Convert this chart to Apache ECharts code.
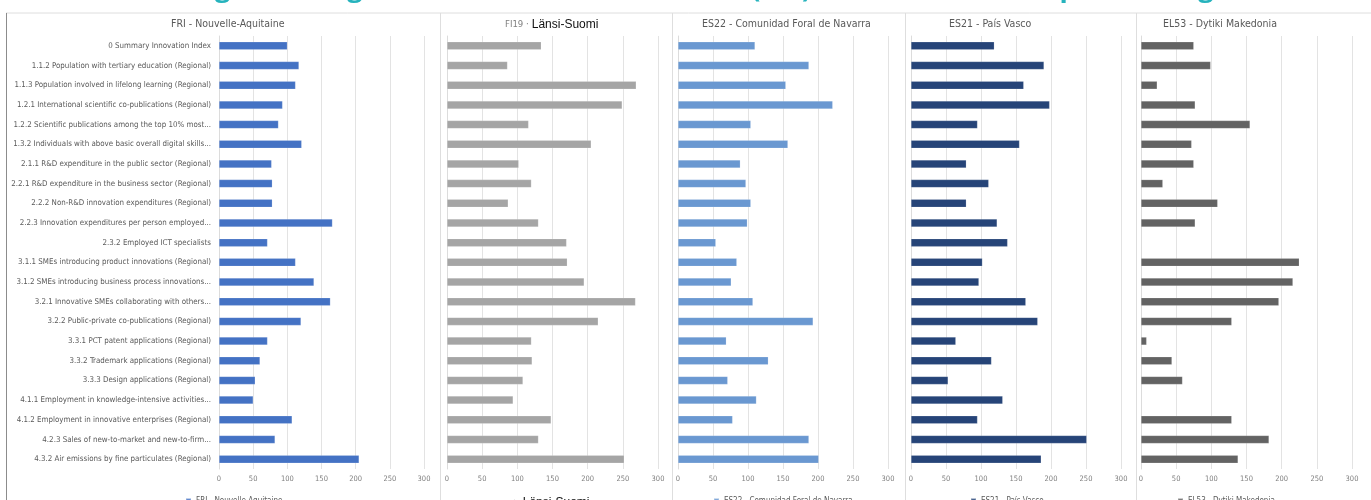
<!DOCTYPE html>
<html>
<head>
<meta charset="utf-8">
<script src="https://cdn.jsdelivr.net/npm/echarts@6/dist/echarts.min.js"></script>
<style>
  html, body { margin: 0; padding: 0; background: #fff; }
  #chart { width: 1371px; height: 500px; }
</style>
</head>
<body>
<div id="chart"></div>
<script>
var categories = [
  '0 Summary Innovation Index',
  '1.1.2 Population with tertiary education (Regional)',
  '1.1.3 Population involved in lifelong learning (Regional)',
  '1.2.1 International scientific co-publications (Regional)',
  '1.2.2 Scientific publications among the top 10% most...',
  '1.3.2 Individuals with above basic overall digital skills...',
  '2.1.1 R&D expenditure in the public sector (Regional)',
  '2.2.1 R&D expenditure in the business sector (Regional)',
  '2.2.2 Non-R&D innovation expenditures (Regional)',
  '2.2.3 Innovation expenditures per person employed...',
  '2.3.2 Employed ICT specialists',
  '3.1.1 SMEs introducing product innovations (Regional)',
  '3.1.2 SMEs introducing business process innovations...',
  '3.2.1 Innovative SMEs collaborating with others...',
  '3.2.2 Public-private co-publications (Regional)',
  '3.3.1 PCT patent applications (Regional)',
  '3.3.2 Trademark applications (Regional)',
  '3.3.3 Design applications (Regional)',
  '4.1.1 Employment in knowledge-intensive activities...',
  '4.1.2 Employment in innovative enterprises (Regional)',
  '4.2.3 Sales of new-to-market and new-to-firm...',
  '4.3.2 Air emissions by fine particulates (Regional)'
];

var regionNames = [
  'FRI - Nouvelle-Aquitaine',
  'FI19 · Länsi-Suomi',
  'ES22 - Comunidad Foral de Navarra',
  'ES21 - País Vasco',
  'EL53 - Dytiki Makedonia'
];

var nouvelleAquitaine = [100, 117, 112, 93, 87, 121, 77, 78, 78, 166, 71, 112, 139, 163, 120, 71, 60, 53, 50, 107, 82, 205];
var lansiSuomi = [134, 86, 269, 249, 116, 205, 102, 120, 87, 130, 170, 171, 195, 268, 215, 120, 121, 108, 94, 148, 130, 252];
var navarra = [110, 187, 154, 221, 104, 157, 89, 97, 104, 99, 54, 84, 76, 107, 193, 69, 129, 71, 112, 78, 187, 201];
var paisVasco = [119, 190, 161, 198, 95, 155, 79, 111, 79, 123, 138, 102, 97, 164, 181, 64, 115, 53, 131, 95, 251, 186];
var dytikiMakedonia = [75, 99, 23, 77, 155, 72, 75, 31, 109, 77, null, 225, 216, 196, 129, 8, 44, 59, null, 129, 182, 138];

var xTicks = { min: 0, max: 300, interval: 50 };

var seriesData = [nouvelleAquitaine, lansiSuomi, navarra, paisVasco, dytikiMakedonia];
var colors = ['#4472C4', '#A5A5A5', '#6A98D1', '#264478', '#636363'];

var narrow = '"Liberation Sans Narrow", "DejaVu Sans Condensed", "Liberation Sans", sans-serif';
var gridLeft = [219, 447, 678, 911, 1141];
var gridWidth = [205, 211, 210, 210, 211];
var titleLeft = [166, 500, 697, 944, 1158];
var legendLeft = [180, 487, 708, 965, 1172];

var myChart = echarts.init(document.getElementById('chart'));

var grids = [], xAxes = [], yAxes = [], series = [], titles = [], legends = [];
for (var i = 0; i < 5; i++) {
  grids.push({ left: gridLeft[i], width: gridWidth[i], top: 36, height: 433, containLabel: false, outerBoundsMode: 'none' });
  xAxes.push({
    type: 'value', gridIndex: i,
    min: xTicks.min, max: xTicks.max, interval: xTicks.interval,
    axisLine: { show: false }, axisTick: { show: false },
    axisLabel: { color: '#7f7f7f', fontSize: 7.5, fontFamily: narrow, margin: 6 },
    splitLine: { lineStyle: { color: '#e3e3e3', width: 1 } }
  });
  yAxes.push({
    type: 'category', gridIndex: i, inverse: true, data: categories,
    axisLine: { show: true, lineStyle: { color: '#dcdcdc' } },
    axisTick: { show: false },
    axisLabel: { show: i === 0, color: '#595959', fontSize: 7.9, fontFamily: narrow, margin: 8 }
  });
  series.push({
    name: regionNames[i], type: 'bar', xAxisIndex: i, yAxisIndex: i,
    data: seriesData[i], barWidth: 8,
    itemStyle: { color: colors[i], borderColor: 'rgba(255,255,255,0.35)', borderWidth: 0.5 },
    silent: true
  });
  legends.push({
    data: [regionNames[i]], left: legendLeft[i], top: 492,
    icon: 'rect', itemWidth: 5, itemHeight: 5, itemGap: 4,
    textStyle: { color: '#595959', fontSize: 8, fontFamily: narrow,
      rich: { s: { color: '#8a8a8a', fontSize: 7, fontFamily: narrow }, b: { color: '#111', fontSize: 12, fontFamily: '"Liberation Sans", sans-serif' } } },
    formatter: i === 1 ? function () { return '{s|FI19 ·} {b|Länsi-Suomi}'; } : '{name}'
  });
  titles.push({
    text: i === 1 ? '{s|FI19 ·} {b|Länsi-Suomi}' : regionNames[i],
    left: titleLeft[i], top: 14,
    textStyle: { color: '#595959', fontSize: 10.5, fontWeight: 'normal', fontFamily: narrow,
      rich: { s: { color: '#7f7f7f', fontSize: 9.5, fontFamily: narrow }, b: { color: '#111', fontSize: 12, fontFamily: '"Liberation Sans", sans-serif' } } }
  });
}

var option = {
  animation: false,
  backgroundColor: '#ffffff',
  title: titles,
  legend: legends,
  grid: grids,
  xAxis: xAxes,
  yAxis: yAxes,
  series: series,
  graphic: [
    { type: 'text', left: 192, top: -24, silent: true,
      style: { text: 'Figure 6: Regional Innovation Scoreboard (RIS) indicators for the partner regions, 2023', fill: '#26B3BD', font: 'bold 27px "Open Sans", sans-serif' } },
    { type: 'line', shape: { x1: 6, y1: 13, x2: 1371, y2: 13 }, style: { stroke: '#dedede', lineWidth: 1 } },
    { type: 'line', shape: { x1: 6.5, y1: 13, x2: 6.5, y2: 500 }, style: { stroke: '#8c8c8c', lineWidth: 1 } },
    { type: 'line', shape: { x1: 440.5, y1: 13, x2: 440.5, y2: 500 }, style: { stroke: '#dedede', lineWidth: 1 } },
    { type: 'line', shape: { x1: 672.5, y1: 13, x2: 672.5, y2: 500 }, style: { stroke: '#dedede', lineWidth: 1 } },
    { type: 'line', shape: { x1: 905.5, y1: 13, x2: 905.5, y2: 500 }, style: { stroke: '#dedede', lineWidth: 1 } },
    { type: 'line', shape: { x1: 1136.5, y1: 13, x2: 1136.5, y2: 500 }, style: { stroke: '#dedede', lineWidth: 1 } }
  ]
};

myChart.setOption(option);
</script>
</body>
</html>
